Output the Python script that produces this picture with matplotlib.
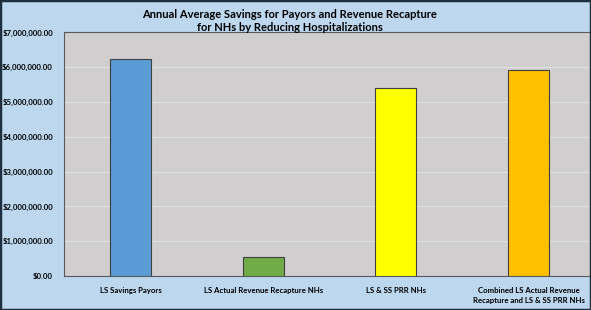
import matplotlib
matplotlib.use("Agg")
import matplotlib.pyplot as plt
from matplotlib.ticker import FuncFormatter, MultipleLocator
from matplotlib.patches import Rectangle

categories = ["LS Savings Payors", "LS Actual Revenue Recapture NHs", "LS & SS PRR NHs",
              "Combined LS Actual Revenue\nRecapture and LS & SS PRR NHs"]
values = [6240000, 540000, 5410000, 5930000]
colors = ["#5B9BD5", "#70AD47", "#FFFF00", "#FFC000"]
title = "Annual Average Savings for Payors and Revenue Recapture\nfor NHs by Reducing Hospitalizations"

plt.rcParams['font.family'] = ['Lato', 'DejaVu Sans']

W, H = 591, 310
fig = plt.figure(figsize=(W / 100, H / 100), dpi=100)
fig.patch.set_facecolor("#BDD7EE")

ax = fig.add_axes([64 / W, (H - 276) / H, 531 / W, (276 - 32.5) / H])
ax.set_facecolor("#D0CECE")
x = range(len(categories))
ax.bar(x, values, width=0.31, color=colors, edgecolor="#404040", linewidth=0.8, zorder=3)
ax.set_xlim(-0.5, 3.5)
ax.set_ylim(0, 7000000)
ax.yaxis.set_major_locator(MultipleLocator(1000000))
ax.yaxis.set_major_formatter(FuncFormatter(lambda v, p: f"${v:,.2f}"))
ax.grid(axis="y", color="#E2E2E2", linewidth=0.8, zorder=0)
ax.set_xticks(list(x))
ax.set_xticklabels(categories, fontsize=5.6, fontweight="bold", linespacing=1.45)
for lbl in ax.get_yticklabels():
    lbl.set_fontsize(5.6)
    lbl.set_fontweight("bold")
ax.tick_params(axis="both", length=0)
ax.tick_params(axis="y", pad=8)
ax.tick_params(axis="x", pad=8)
for s in ax.spines.values():
    s.set_color("#595959")
    s.set_linewidth(0.8)

fig.text(290 / W, 1 - 21 / H, title, ha="center", va="center", fontsize=8,
         fontweight="bold", linespacing=1.3)

fig.patches.append(Rectangle((0, 0), 1, 1, transform=fig.transFigure, fill=False,
                             edgecolor="#1F2F3F", linewidth=2.5, zorder=10))

fig.savefig("out.png", dpi=100, facecolor=fig.get_facecolor())
